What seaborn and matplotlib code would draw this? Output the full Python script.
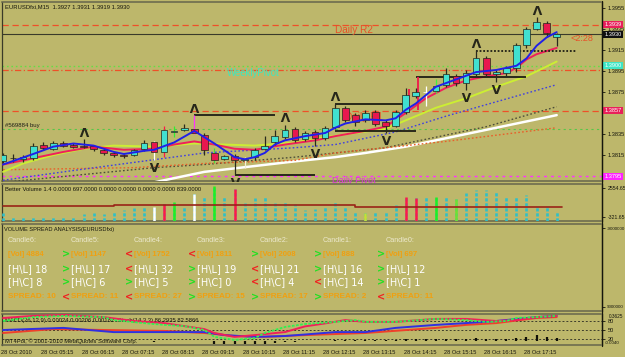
import numpy as np
import pandas as pd
import matplotlib
matplotlib.use("Agg")
import matplotlib.pyplot as plt
import matplotlib.transforms as mtransforms
from matplotlib import font_manager
from matplotlib.lines import Line2D
import seaborn as sns

# ------------------------------------------------------------------ data
header_text = "EURUSDfxi,M15  1.3927 1.3931 1.3919 1.3930"
time_labels = ["28 Oct 2010", "28 Oct 05:15", "28 Oct 06:15", "28 Oct 07:15", "28 Oct 08:15",
               "28 Oct 09:15", "28 Oct 10:15", "28 Oct 11:15", "28 Oct 12:15", "28 Oct 13:15",
               "28 Oct 14:15", "28 Oct 15:15", "28 Oct 16:15", "28 Oct 17:15"]
time_label_bars = [0, 4, 8, 12, 16, 20, 24, 28, 32, 36, 40, 44, 48, 52]

bar_open = [1.3809, 1.3812, 1.3811, 1.3812, 1.3825, 1.3821, 1.3826, 1.3825, 1.3824, 1.3824,
            1.3820, 1.3817, 1.3815, 1.3815, 1.3821, 1.3827, 1.3818, 1.3837, 1.3839, 1.3840,
            1.3834, 1.3817, 1.3811, 1.3814, 1.3810, 1.3813, 1.3821, 1.3827, 1.3832, 1.3840,
            1.3830, 1.3837, 1.3831, 1.3842, 1.3860, 1.3853, 1.3848, 1.3856, 1.3846, 1.3843,
            1.3856, 1.3871, 1.3875, 1.3876, 1.3882, 1.3890, 1.3884, 1.3892, 1.3907, 1.3892,
            1.3893, 1.3898, 1.3920, 1.3935, 1.3941, 1.3927]
bar_high = [1.3817, 1.3816, 1.3815, 1.3826, 1.3827, 1.3828, 1.3828, 1.3826, 1.3830, 1.3825,
            1.3822, 1.3818, 1.3816, 1.3821, 1.3829, 1.3828, 1.3843, 1.3843, 1.3845, 1.3853,
            1.3836, 1.3822, 1.3815, 1.3816, 1.3813, 1.3822, 1.3833, 1.3839, 1.3844, 1.3842,
            1.3838, 1.3839, 1.3843, 1.3864, 1.3862, 1.3855, 1.3858, 1.3858, 1.3848, 1.3858,
            1.3879, 1.3879, 1.3881, 1.3887, 1.3898, 1.3892, 1.3896, 1.3915, 1.3909, 1.3896,
            1.3900, 1.3922, 1.3937, 1.3946, 1.3943, 1.3931]
bar_low = [1.3807, 1.3808, 1.3808, 1.3810, 1.3820, 1.3820, 1.3823, 1.3822, 1.3822, 1.3819,
           1.3815, 1.3813, 1.3812, 1.3814, 1.3819, 1.3810, 1.3813, 1.3832, 1.3838, 1.3835,
           1.3815, 1.3807, 1.3810, 1.3796, 1.3803, 1.3810, 1.3820, 1.3825, 1.3830, 1.3827,
           1.3828, 1.3824, 1.3829, 1.3840, 1.3846, 1.3843, 1.3846, 1.3843, 1.3836, 1.3842,
           1.3854, 1.3869, 1.3862, 1.3874, 1.3880, 1.3881, 1.3877, 1.3890, 1.3889, 1.3885,
           1.3889, 1.3894, 1.3917, 1.3934, 1.3927, 1.3919]
bar_close = [1.3815, 1.3812, 1.3813, 1.3824, 1.3822, 1.3826, 1.3824, 1.3823, 1.3823, 1.3821,
             1.3817, 1.3815, 1.3814, 1.3820, 1.3826, 1.3818, 1.3839, 1.3838, 1.3841, 1.3836,
             1.3820, 1.3810, 1.3814, 1.3810, 1.3811, 1.3820, 1.3824, 1.3833, 1.3839, 1.3829,
             1.3836, 1.3831, 1.3841, 1.3860, 1.3848, 1.3846, 1.3855, 1.3845, 1.3843, 1.3856,
             1.3872, 1.3875, 1.3875, 1.3881, 1.3892, 1.3884, 1.3893, 1.3907, 1.3892, 1.3894,
             1.3898, 1.3920, 1.3935, 1.3942, 1.3931, 1.3930]
wick_special_bars = [15, 16, 17, 19, 21, 24, 42, 43]
wick_special_colors = ["#FFFFFF", "#FF1848", "#30F030", "#FF30FF", "#40E040", "#F4F0D8", "#FFFFFF", "#40F040"]
white_body_bars = [42]

# moving averages (bar index, price)
ma_fast_bars = [0, 3, 5, 7, 9, 11, 12, 14, 15, 17, 19, 20, 21, 23, 24, 25, 26, 27, 28, 30, 32, 33,
                34, 36, 38, 39, 40, 41, 43, 45, 47, 49, 51, 52, 53, 54, 55]
ma_fast = [1.3806, 1.3816, 1.3823, 1.3826, 1.3824, 1.3818, 1.3816, 1.3819, 1.3820, 1.3827, 1.3838,
           1.3832, 1.3826, 1.3813, 1.3811, 1.3813, 1.3817, 1.3825, 1.3829, 1.3833, 1.3836, 1.3841,
           1.3845, 1.3849, 1.3848, 1.3850, 1.3858, 1.3864, 1.3880, 1.3887, 1.3894, 1.3896, 1.3900,
           1.3907, 1.3919, 1.3927, 1.3932]
ma_mid_bars = [0, 3, 6, 9, 11, 12, 15, 17, 19, 21, 23, 25, 28, 31, 33, 36, 38, 40, 42, 44, 46, 48,
               50, 51, 52, 53, 55]
ma_mid = [1.3806, 1.3812, 1.3818, 1.3823, 1.3821, 1.3820, 1.3821, 1.3825, 1.3828, 1.3825, 1.3821,
          1.3820, 1.3825, 1.3829, 1.3833, 1.3838, 1.3842, 1.3855, 1.3869, 1.3879, 1.3886, 1.3890,
          1.3893, 1.3898, 1.3906, 1.3911, 1.3917]
ma_slow_bars = [0, 2, 5, 8, 11, 15, 19, 22, 25, 29, 32, 35, 38, 39, 43, 46, 49, 52, 55]
ma_slow = [1.3799, 1.3807, 1.3815, 1.3821, 1.3824, 1.3823, 1.3826, 1.3825, 1.3824, 1.3827, 1.3832,
           1.3836, 1.3840, 1.3844, 1.3860, 1.3869, 1.3880, 1.3890, 1.3904]
ma_blue_dot_bars = [0, 6, 13, 20, 29, 33, 39, 44, 48, 55]
ma_blue_dot = [1.3791, 1.3799, 1.3808, 1.3817, 1.3822, 1.3825, 1.3837, 1.3852, 1.3863, 1.3882]
ma_gray_dot_bars = [0, 15, 20, 29, 38, 48, 55]
ma_gray_dot = [1.3789, 1.3803, 1.3806, 1.3813, 1.3822, 1.3842, 1.3861]
ma_orange_dot_bars = [0, 13, 20, 29, 33, 44, 55]
ma_orange_dot = [1.3801, 1.3803, 1.3807, 1.3810, 1.3817, 1.3828, 1.3841]
ma_white_bars = [15, 20, 29, 33, 36, 40, 48, 55]
ma_white = [1.3789, 1.3799, 1.3809, 1.3813, 1.3817, 1.3823, 1.3839, 1.3853]

up_fractal_bars = [8, 19, 28, 33, 47, 53]
down_fractal_bars = [15, 23, 31, 38, 46, 49]

level_start = [19, 23, 33, 33, 41, 47]
level_end = [27, 31, 40, 41, 52, 57]
level_price = [1.3853, 1.3796, 1.3864, 1.3838, 1.3889, 1.3914]
level_dotted = [False, False, False, False, False, True]

trade_marks_bar = [40.3, 41.2]
trade_marks_low = [1.3855, 1.3858]
trade_marks_high = [1.3878, 1.3889]

daily_r2 = 1.3939
current_price = 1.3930
weekly_pivot = 1.3900
weekly_level2 = 1.3896
daily_r1 = 1.3857
buy_order = 1.3840
daily_pivot = 1.3795

price_ticks = [1.3955, 1.3935, 1.3915, 1.3895, 1.3875, 1.3835, 1.3815]
price_tags = [1.3939, 1.3930, 1.3900, 1.3857, 1.3795]
price_tag_colors = ["#E8205A", "#101010", "#3EE6C6", "#E8205A", "#FF22FF"]

# Better Volume
vol_header = "Better Volume 1.4 0.0000 697.0000 0.0000 0.0000 0.0000 0.0000 839.0000"
volumes = [75, -321, -321, -222, -321, -222, -321, -222, -24, 75,
           -24, 174, 373, 571, 670, 670, 968, 1166, 769, 1960,
           1662, 2753, 1761, 2455, 1067, 1563, 1662, 1067, 1265, 968,
           373, 472, 670, 1166, 670, 174, 75, 273, 174, 869,
           1662, 1563, 1662, 1662, 1761, 1464, 2059, 2356, 2356, 2158,
           1761, 1761, 1860, 670, 670, 174]
vol_special_bars = [15, 16, 17, 19, 21, 23, 36, 40, 41, 43, 45]
vol_special_colors = ["#FFFFFF", "#FF1848", "#20F020", "#FFFFFF", "#20F020", "#FF1848",
                      "#C8E030", "#FF1848", "#FF1848", "#20F020", "#70E030"]
vol_avg_bars = [0, 11, 35, 55.5]
vol_avg = [770, 860, 650, 650]
vol_ticks = [2554.65, -321.65]

# Volume spread analysis panel
vsa_title = "VOLUME SPREAD ANALYSIS(EURUSDfxi)"
vsa_candles = ["Candle6:", "Candle5:", "Candle4:", "Candle3:", "Candle2:", "Candle1:", "Candle0:"]
vsa_vol = [4884, 1147, 1752, 1811, 2008, 888, 697]
vsa_vol_dir = ["", ">", "<", "<", ">", ">", ">"]
vsa_hl = [18, 17, 32, 19, 21, 16, 12]
vsa_hl_dir = ["", ">", "<", ">", "<", ">", ">"]
vsa_hc = [8, 6, 5, 0, 4, 14, 1]
vsa_hc_dir = ["", ">", ">", ">", "<", "<", ">"]
vsa_spread = [10, 11, 27, 15, 17, 2, 11]
vsa_spread_dir = ["", "<", "<", ">", ">", ">", "<"]
vsa_scale_labels = ["-9000000", "9000000"]

# Oscillators
osc_header = "MACD(26,12,9) 0.00024 0.00206 0.00182  Stoch(14,3,3) 86.2935 82.5866"
osc_footer = "MT4Pol, \u00a9 2001-2010 MetaQuotes Software Corp."
stoch_bars = [0, 3, 6, 10, 11, 14, 16, 18, 20, 21, 23, 25, 26, 28, 30, 33, 35, 36, 39, 43, 46, 48,
              50, 51, 53, 55]
stoch_main = [80, 93, 97, 93, 83, 73, 67, 63, 50, 27, 17, 23, 40, 60, 70, 77, 83, 77, 77, 87, 83, 77,
              80, 90, 93, 97]
stoch_sig_bars = [0, 3, 6, 10, 13, 16, 20, 21, 23, 25, 28, 30, 32, 34, 36, 39, 43, 46, 49, 51, 53, 55]
stoch_sig = [90, 97, 100, 93, 80, 73, 53, 40, 27, 33, 43, 62, 72, 83, 77, 77, 87, 87, 80, 83, 93, 97]
macd_bars = [0, 6, 11, 16, 20, 22, 25, 28, 30, 33, 36, 39, 43, 46, 49, 53, 55]
macd_main = [50, 57, 43, 43, 43, 33, 27, 30, 35, 43, 43, 57, 67, 73, 80, 93, 97]
macd_sig_bars = [0, 5, 10, 16, 20, 23, 26, 30, 36, 43, 46, 49, 53, 55]
macd_sig = [40, 53, 50, 47, 40, 30, 27, 33, 40, 57, 67, 73, 90, 93]
macd_hist = [0, 0, 0, 0, 0, 0, 0, 0, 0, 0, 0, 0, 0, 0, 0, -1, 0, 0, 0, 0,
             0, -8, -10, -10, -10, -9, -8, -6, -2, -2, 1, 1, 2, 3, 3, 3, 3, 3, 4, 6,
             7, 8, 8, 8, 8, 8, 8, 10, 8, 8, 9, 12, 14, 22, 13, 12]
macd_hist_base = 12
osc_levels = [80, 50, 20]
osc_extra_labels = ["0.3625", "-0.0040"]

# ------------------------------------------------------------------ style
BG = "#BDB76B"
BULL = "#40E0D0"
BEAR = "#E8174F"
EDGE = "#24241A"
WICK = "#2A2A1E"
DARK = "#15150C"
SEP = "#66664C"

sns.set_theme(style="white", rc={"axes.facecolor": BG, "figure.facecolor": BG,
                                 "savefig.facecolor": BG})
plt.rcParams["font.family"] = ["Liberation Sans", "DejaVu Sans"]
_names = {f.name for f in font_manager.fontManager.ttflist}
if "Liberation Sans Narrow" in _names:
    NARROW = ["Liberation Sans Narrow", "DejaVu Sans"]
    NS = 1.0
else:
    NARROW = ["Liberation Sans", "DejaVu Sans"]
    NS = 0.82

W, H = 625, 357
fig = plt.figure(figsize=(W / 100, H / 100), dpi=100)


def px_rect(x0, y0, x1, y1):
    return [x0 / W, 1 - y1 / H, (x1 - x0) / W, (y1 - y0) / H]


ax_main = fig.add_axes(px_rect(2, 2, 602, 181))
ax_vol = fig.add_axes(px_rect(2, 184, 602, 221))
ax_vsa = fig.add_axes(px_rect(2, 224, 602, 311))
ax_osc = fig.add_axes(px_rect(2, 314, 602, 345))

XLIM = (-0.1, 59.5)
for ax in (ax_main, ax_vol, ax_osc):
    ax.set_xlim(*XLIM)
for ax in (ax_main, ax_vol, ax_vsa, ax_osc):
    ax.set_facecolor(BG)
    ax.set_xticks([])
    for s in ("top", "bottom"):
        ax.spines[s].set_color(SEP)
        ax.spines[s].set_linewidth(1.1)
        ax.spines[s].set_linestyle((0, (2, 1)))
    ax.spines["left"].set_color("#3A3A28")
    ax.spines["left"].set_linewidth(0.9)
    ax.spines["left"].set_linestyle((0, (2, 1)))
    ax.spines["right"].set_color(DARK)
    ax.spines["right"].set_linewidth(0.9)
    ax.yaxis.tick_right()
    ax.tick_params(axis="y", which="both", right=True, left=False, labelright=True,
                   labelleft=False, length=2.5, width=0.6, pad=1.5, colors=DARK,
                   labelsize=5 * NS)

# ------------------------------------------------------------------ main panel
ax = ax_main
ax.set_ylim(1.37903, 1.39607)
ax.set_yticks(price_ticks)
ax.set_yticklabels([f"{t:.4f}" for t in price_ticks])
for lab in ax.get_yticklabels():
    lab.set_family(NARROW)

ax.axhline(daily_r2, color="#EE5028", lw=0.9, ls=(0, (5, 3)), zorder=2)
ax.axhline(current_price, color="#3A3A2A", lw=0.8, zorder=2)
ax.axhline(weekly_pivot, color="#66DD44", lw=1.0, ls=(0, (1.2, 2)), zorder=2)
ax.axhline(weekly_level2, color="#EE5028", lw=0.9, ls=(0, (5, 2, 1, 2)), zorder=2)
ax.axhline(daily_r1, color="#EE5028", lw=0.9, ls=(0, (5, 3)), zorder=2)
ax.axhline(buy_order, color="#56C848", lw=0.8, ls=(0, (2, 3)), zorder=2)
ax.axhline(daily_pivot, color="#FF30FF", lw=1.0, ls=(0, (2, 3)), zorder=2)

ax.text(33.0, 1.3934, "Daily R2", color="#E85028", fontsize=7.2, va="center", ha="left", zorder=3)
ax.text(34.0, 1.3851, "Daily R1", color="#E85028", fontsize=7.2, va="center", ha="left", zorder=3)
ax.text(22.2, 1.3893, "WeeklyPivot", color="#3CE8C0", fontsize=6.9, va="center", ha="left", zorder=3)
ax.text(0.2, 1.3843, "#569884 buy", color="#20201A", fontsize=5.3 * NS, family=NARROW,
        va="center", ha="left", zorder=3)
ax.text(32.7, 1.37905, "Daily Pivot", color="#E030E0", fontsize=6.6, va="center", ha="left",
        zorder=3)
ax.text(56.4, 1.3926, "<2:28", color="#E85028", fontsize=6.5, va="center", ha="left", zorder=9)
ax.text(0.005, 0.975, header_text, transform=ax.transAxes, color=DARK, fontsize=5.2 * NS,
        family=NARROW, va="center", ha="left")

# moving averages
sns.lineplot(x=ma_white_bars, y=ma_white, ax=ax, color="#FFFFFF", linewidth=1.8, zorder=3)
sns.lineplot(x=ma_gray_dot_bars, y=ma_gray_dot, ax=ax, color="#4E4E3A", linewidth=1.0,
             linestyle=(0, (1.2, 1.6)), zorder=3)
sns.lineplot(x=ma_orange_dot_bars, y=ma_orange_dot, ax=ax, color="#E8602A", linewidth=1.0,
             linestyle=(0, (1.2, 1.6)), zorder=3)
sns.lineplot(x=ma_blue_dot_bars, y=ma_blue_dot, ax=ax, color="#4040E0", linewidth=1.0,
             linestyle=(0, (1.2, 1.6)), zorder=3)
sns.lineplot(x=ma_slow_bars, y=ma_slow, ax=ax, color="#CCEE33", linewidth=1.4, zorder=4)
sns.lineplot(x=ma_mid_bars, y=ma_mid, ax=ax, color="#F0205A", linewidth=1.4, zorder=4)
sns.lineplot(x=ma_fast_bars, y=ma_fast, ax=ax, color="#2020E8", linewidth=1.4, zorder=8)

# fractal levels
for xs, xe, p, dotted in zip(level_start, level_end, level_price, level_dotted):
    ax.hlines(p, xs, xe, colors="#1E1E14", linewidth=1.3,
              linestyles=(0, (1, 1)) if dotted else "solid", zorder=5)
ax.vlines(trade_marks_bar, trade_marks_low, trade_marks_high, colors="#F0184A", linewidth=1.3,
          zorder=6)

# candles
o = np.array(bar_open)
h = np.array(bar_high)
l = np.array(bar_low)
c = np.array(bar_close)
n = len(c)
bars = np.arange(n)
bull = c >= o
wick_colors = [WICK] * n
for b, col in zip(wick_special_bars, wick_special_colors):
    wick_colors[b] = col
body_colors = [BULL if u else BEAR for u in bull]
edge_colors = [EDGE] * n
for b in white_body_bars:
    body_colors[b] = "#FFFFFF"
    edge_colors[b] = "#FFFFFF"
ax.vlines(bars, l, h, colors=wick_colors, linewidth=0.9, zorder=6)
ax.bar(bars, np.maximum(np.abs(c - o), 0.00004), bottom=np.minimum(o, c), width=0.66,
       color=body_colors, edgecolor=edge_colors, linewidth=0.5, zorder=7)

# fractal arrows
sns.scatterplot(x=up_fractal_bars, y=h[up_fractal_bars] + 0.00068, ax=ax,
                marker=r"$\mathbf{\Lambda}$", s=46, color="#26261A", linewidth=0, zorder=9,
                legend=False)
sns.scatterplot(x=down_fractal_bars, y=l[down_fractal_bars] - 0.00068, ax=ax,
                marker=r"$\mathbf{V}$", s=46, color="#26261A", linewidth=0, zorder=9, legend=False)

# price tags on the right scale
blend = mtransforms.blended_transform_factory(ax.transAxes, ax.transData)
for p, col in zip(price_tags, price_tag_colors):
    ax.text(1.004, p, f"{p:.4f}", transform=blend, color="#FFFFFF", fontsize=5 * NS,
            family=NARROW, va="center", ha="left", clip_on=False, zorder=10,
            bbox=dict(boxstyle="square,pad=0.18", fc=col, ec="none"))

# ------------------------------------------------------------------ volume panel
ax = ax_vol
ax.set_ylim(-718, 2951)
ax.set_yticks(vol_ticks)
ax.set_yticklabels([f"{t:.2f}" for t in vol_ticks])
for lab in ax.get_yticklabels():
    lab.set_family(NARROW)
    lab.set_fontsize(4.5 * NS)
vol = np.array(volumes, dtype=float)
ax.vlines(bars, -718, vol, colors="#2EC0C8", linewidth=1.9, linestyles=(0, (1.2, 0.7)), zorder=3)
ax.vlines(vol_special_bars, -718, vol[vol_special_bars], colors=vol_special_colors,
          linewidth=1.8, zorder=4)
ax.plot(vol_avg_bars, vol_avg, drawstyle="steps-post", color="#9A2418", linewidth=1.2, zorder=5)
ax.text(0.005, 0.86, vol_header, transform=ax.transAxes, color=DARK, fontsize=5.2 * NS,
        family=NARROW, va="center", ha="left")

# ------------------------------------------------------------------ VSA panel
ax = ax_vsa
ax.set_xlim(0, 600)
ax.set_ylim(87, 0)
ax.set_yticks([4, 83])
ax.set_yticklabels(vsa_scale_labels)
ax.tick_params(axis="y", pad=1.0)
for lab in ax.get_yticklabels():
    lab.set_family(NARROW)
    lab.set_fontsize(3.9 * NS)
ax.text(2, 5, vsa_title, color=DARK, fontsize=5 * NS, family=NARROW, va="center", ha="left")
GREEN = "#22E022"
RED = "#F02020"
ORANGE = "#F0A010"
for k in range(len(vsa_candles)):
    x0 = 6 + 63 * k
    ax.text(x0, 16, vsa_candles[k], color="#ECE8CC", fontsize=5.2, va="center", ha="left")
    entries = [
        (30, f"[Vol] {vsa_vol[k]}", vsa_vol_dir[k], dict(color=ORANGE, fontsize=5.6, weight="bold")),
        (45, f"[H\\L] {vsa_hl[k]}", vsa_hl_dir[k], dict(color="#FFFFFF", fontsize=7, family="DejaVu Sans")),
        (58, f"[H\\C] {vsa_hc[k]}", vsa_hc_dir[k], dict(color="#FFFFFF", fontsize=7, family="DejaVu Sans")),
        (73, f"SPREAD: {vsa_spread[k]}", vsa_spread_dir[k], dict(color=ORANGE, fontsize=5.9, weight="bold")),
    ]
    for y, txt, d, kw in entries:
        ax.text(x0, y, txt, va="center", ha="left", **kw)
        if d:
            ax.text(x0 - 1, y, d, va="center", ha="right", color=GREEN if d == ">" else RED,
                    fontsize=7, weight="bold", family="DejaVu Sans")

# ------------------------------------------------------------------ oscillator panel
ax = ax_osc
ax.set_ylim(0, 103.3)
ax.set_yticks(osc_levels)
ax.set_yticklabels([str(v) for v in osc_levels])
for lab in ax.get_yticklabels():
    lab.set_family(NARROW)
for v in osc_levels:
    ax.axhline(v, color="#3E3E2C", lw=0.7, ls=(0, (2, 2)), zorder=2)
ax.vlines(bars, macd_hist_base, macd_hist_base + np.array(macd_hist), colors="#101008",
          linewidth=1.6, zorder=3)
sns.lineplot(x=macd_sig_bars, y=macd_sig, ax=ax, color="#F0402A", linewidth=1.4, zorder=4)
sns.lineplot(x=macd_bars, y=macd_main, ax=ax, color="#3030E0", linewidth=1.4, zorder=4)
sns.lineplot(x=stoch_sig_bars, y=stoch_sig, ax=ax, color="#F0205A", linewidth=1.4, zorder=5)
sns.lineplot(x=stoch_bars, y=stoch_main, ax=ax, color="#30F050", linewidth=1.3,
             linestyle=(0, (1.5, 0.8)), zorder=6)
ax.text(0.005, 0.8, osc_header, transform=ax.transAxes, color=DARK, fontsize=5.2 * NS,
        family=NARROW, va="center", ha="left")
ax.text(0.005, 0.13, osc_footer, transform=ax.transAxes, color=DARK, fontsize=5.2 * NS,
        family=NARROW, va="center", ha="left")
blend_o = mtransforms.blended_transform_factory(ax.transAxes, ax.transData)
ax.text(1.012, 95, osc_extra_labels[0], transform=blend_o, color=DARK, fontsize=4.2 * NS,
        family=NARROW, va="center", ha="left", clip_on=False)
ax.text(1.005, 6, osc_extra_labels[1], transform=blend_o, color=DARK, fontsize=3.9 * NS,
        family=NARROW, va="center", ha="left", clip_on=False)

blend_t = mtransforms.blended_transform_factory(ax.transData, ax.transAxes)
for b, lab in zip(time_label_bars, time_labels):
    ax.text(b - 0.2, -0.23, lab, transform=blend_t, color=DARK, fontsize=4.9 * NS,
            family=NARROW, va="center", ha="left", clip_on=False)

# continuous right scale line
fig.add_artist(Line2D([602 / W, 602 / W], [1 - 346 / H, 1 - 1 / H], transform=fig.transFigure,
                      color=DARK, linewidth=0.9))

fig.savefig("out.png", dpi=100, facecolor=BG)
